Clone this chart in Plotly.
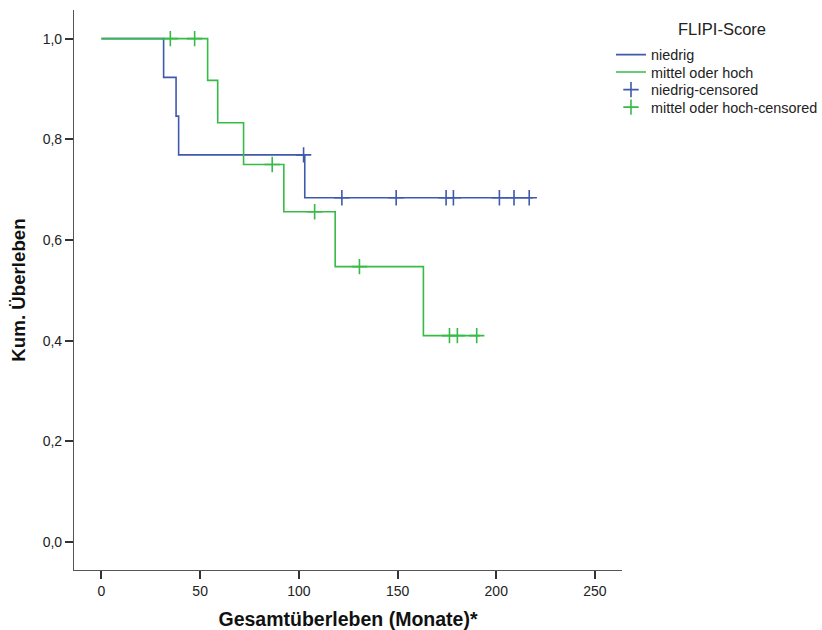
import plotly.graph_objects as go
import numpy as np

# Kaplan-Meier step data
niedrig_t = [0, 31.5, 37.8, 39.1, 103.0, 218.6]
niedrig_s = [1.0, 0.923, 0.846, 0.769, 0.684, 0.684]
niedrig_cens_t = [102.4, 121.8, 149.3, 174.6, 178.3, 201.6, 209.0, 216.7]

mittel_t = [0, 53.8, 58.9, 72.0, 92.4, 118.4, 163.1, 191.8]
mittel_s = [1.0, 0.917, 0.833, 0.750, 0.656, 0.547, 0.410, 0.410]
mittel_cens_t = [34.9, 47.2, 86.5, 108.0, 130.7, 176.3, 180.3, 190.1]

x_ticks = [0, 50, 100, 150, 200, 250]
y_ticks = [0.0, 0.2, 0.4, 0.6, 0.8, 1.0]
y_ticklabels = ["0,0", "0,2", "0,4", "0,6", "0,8", "1,0"]

BLUE = "#3F59AD"
GREEN = "#36BB47"
FONT = "Liberation Sans, Arial, sans-serif"


def step_at(times, surv, t):
    idx = np.searchsorted(np.array(times), t, side="right") - 1
    return surv[max(idx, 0)]


fig = go.Figure()
fig.add_trace(go.Scatter(x=niedrig_t, y=niedrig_s, mode="lines", line=dict(color=BLUE, width=1.6, shape="hv"),
                         name="niedrig", legend="legend"))
fig.add_trace(go.Scatter(x=mittel_t, y=mittel_s, mode="lines", line=dict(color=GREEN, width=1.6, shape="hv"),
                         name="mittel oder hoch", legend="legend2"))
fig.add_trace(go.Scatter(x=niedrig_cens_t, y=[step_at(niedrig_t, niedrig_s, t) for t in niedrig_cens_t],
                         mode="markers", name="niedrig-censored", legend="legend3",
                         marker=dict(symbol="cross-thin-open", size=11, color=BLUE,
                                     line=dict(color=BLUE, width=1.6))))
fig.add_trace(go.Scatter(x=mittel_cens_t, y=[step_at(mittel_t, mittel_s, t) for t in mittel_cens_t],
                         mode="markers", name="mittel oder hoch-censored", legend="legend4",
                         marker=dict(symbol="cross-thin-open", size=11, color=GREEN,
                                     line=dict(color=GREEN, width=1.6))))

axis_common = dict(showline=True, linecolor="#555", linewidth=1.2, ticks="outside", ticklen=8,
                   tickcolor="#333", tickwidth=1.5, showgrid=False, zeroline=False, automargin=False,
                   tickfont=dict(family=FONT, size=14, color="#222"))


def leg(ytop):
    return dict(xref="container", yref="container", x=0.7433, xanchor="left", y=ytop, yanchor="top",
                itemwidth=30, font=dict(family=FONT, size=14.4, color="#222"), bgcolor="rgba(0,0,0,0)")


fig.update_layout(
    width=822, height=630,
    margin=dict(l=74, r=200, t=10, b=60, autoexpand=False),
    plot_bgcolor="white", paper_bgcolor="white",
    font=dict(family=FONT, color="#222"),
    xaxis=dict(range=[-13.9, 263.7], tickvals=x_ticks,
               title=dict(text="<b>Gesamtüberleben (Monate)*</b>", font=dict(family=FONT, size=19.5, color="#111"),
                          standoff=14),
               **axis_common),
    yaxis=dict(range=[-0.0556, 1.0569], tickvals=y_ticks, ticktext=y_ticklabels,
               title=dict(text="<b>Kum. Überleben</b>", font=dict(family=FONT, size=18.7, color="#111"),
                          standoff=12),
               **axis_common),
    legend=leg(0.9384),
    legend2=leg(0.9108),
    legend3=leg(0.8829),
    legend4=leg(0.8552),
    showlegend=True,
)
fig.add_annotation(xref="paper", yref="paper", x=1.1825, y=0.986, xanchor="center", yanchor="top",
                   text="FLIPI-Score", showarrow=False, font=dict(family=FONT, size=16.5, color="#222"))

fig.write_html("out.html")
